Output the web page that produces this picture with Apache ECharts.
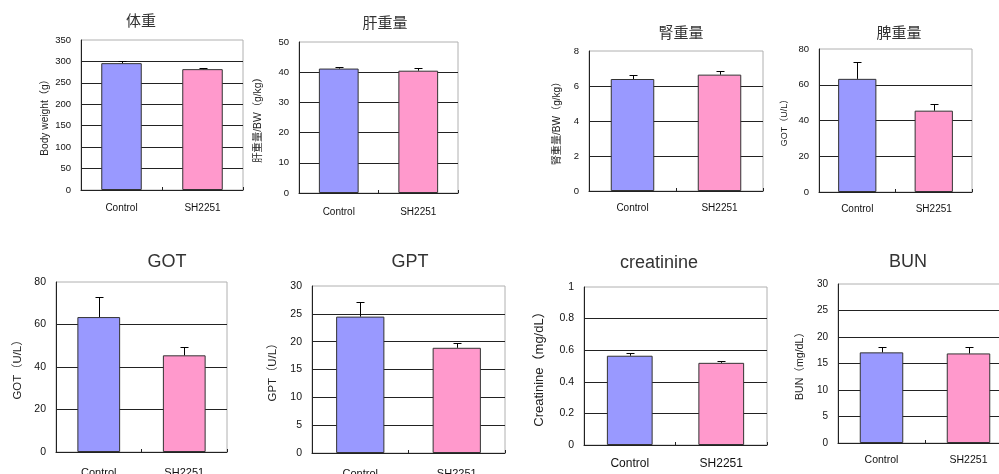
<!DOCTYPE html>
<html>
<head>
<meta charset="utf-8">
<script src="https://cdn.jsdelivr.net/npm/echarts@6/dist/echarts.min.js"></script>
<style>
  html, body { margin: 0; padding: 0; background: #fff; }
  #chart { width: 999px; height: 474px; }
</style>
</head>
<body>
<div id="chart"></div>
<script>
// Groups compared in every panel
const groups = ['Control', 'SH2251'];

// Panel headings and y-axis names
const panelTitles = ['体重', '肝重量', '腎重量', '脾重量', 'GOT', 'GPT', 'creatinine', 'BUN'];
const axisNames = [
  'Body weight（g）',
  '肝重量/BW（g/kg）',
  '腎重量/BW（g/kg）',
  'GOT（U/L）',
  'GOT（U/L）',
  'GPT（U/L）',
  'Creatinine（mg/dL）',
  'BUN（mg/dL）'
];

// Means and error (upper bar) per panel: [Control, SH2251]
const bodyWeight = [296, 282];
const bodyWeightErr = [5, 3];
const liverWeight = [41.2, 40.5];
const liverWeightErr = [0.6, 1.0];
const kidneyWeight = [6.4, 6.65];
const kidneyWeightErr = [0.25, 0.22];
const spleenWeight = [63.3, 45.5];
const spleenWeightErr = [9.5, 3.7];
const gotValues = [63.5, 45.5];
const gotErr = [9.5, 3.8];
const gptValues = [24.5, 18.9];
const gptErr = [2.7, 0.8];
const creatinineValues = [0.565, 0.52];
const creatinineErr = [0.02, 0.012];
const bunValues = [17.1, 16.9];
const bunErr = [1.1, 1.2];

// Value-axis ticks per panel
const axisMax = [350, 50, 8, 80, 80, 30, 1, 30];
const axisStep = [50, 10, 2, 20, 20, 5, 0.2, 5];

const panelMeans = [bodyWeight, liverWeight, kidneyWeight, spleenWeight, gotValues, gptValues, creatinineValues, bunValues];
const panelErrs = [bodyWeightErr, liverWeightErr, kidneyWeightErr, spleenWeightErr, gotErr, gptErr, creatinineErr, bunErr];

// Panel placement: plot box, heading centre, label offsets and font sizes
const layout = [
  { box: [81, 40, 162, 150],  head: [141, 22], headSize: 15, tick: 9.5, xl: 10, xOff: 19, nameC: 37, nameSize: 10.2 },
  { box: [299, 42, 159, 151], head: [385, 24], headSize: 15, tick: 9.5, xl: 10, xOff: 20, nameC: 42, nameSize: 10.3 },
  { box: [589, 51, 174, 140], head: [681, 34], headSize: 15, tick: 9.5, xl: 10, xOff: 18, nameC: 33, nameSize: 10.1 },
  { box: [819, 49, 153, 143], head: [899, 34], headSize: 15, tick: 9.5, xl: 10, xOff: 18, nameC: 35, nameSize: 9 },
  { box: [56, 282, 171, 170], head: [167, 262], headSize: 18, tick: 10.5, xl: 11, xOff: 22, nameC: 39, nameSize: 11.4 },
  { box: [312, 286, 193, 167], head: [410, 262], headSize: 18, tick: 10.5, xl: 11, xOff: 22, nameC: 40, nameSize: 11.4 },
  { box: [584, 287, 183, 158], head: [659, 263], headSize: 18, tick: 10.5, xl: 12, xOff: 20, nameC: 46, nameSize: 13 },
  { box: [838, 284, 174, 159], head: [908, 262], headSize: 18, tick: 10, xl: 10.5, xOff: 18, nameC: 39, nameSize: 10.6 }
];

const FONT = "'Liberation Sans', 'Noto Sans CJK JP', sans-serif";
const barColors = ['#9999FF', '#FF99CC'];

const grids = [], xAxes = [], yAxes = [], series = [], texts = [];

layout.forEach((L, i) => {
  const [left, top, width, height] = L.box;
  grids.push({
    left, top, width, height,
    outerBoundsMode: 'none', containLabel: false,
    show: true, borderColor: '#b0b0b0', borderWidth: 1, backgroundColor: '#fff'
  });
  xAxes.push({
    type: 'category', gridIndex: i, data: groups,
    axisLine: { lineStyle: { color: '#222', width: 1 } },
    axisTick: { show: true, inside: true, length: 3, lineStyle: { color: '#222' } },
    axisLabel: { color: '#111', fontSize: L.xl, fontFamily: FONT, margin: L.xOff - L.xl / 2 - 1 },
    splitLine: { show: false }
  });
  yAxes.push({
    type: 'value', gridIndex: i, min: 0, max: axisMax[i], interval: axisStep[i],
    name: axisNames[i], nameLocation: 'middle', nameGap: L.nameC - L.nameSize / 2 - 1,
    nameTextStyle: { color: '#222', fontSize: L.nameSize, fontFamily: FONT },
    axisLine: { show: true, lineStyle: { color: '#222', width: 1 } },
    axisTick: { show: false },
    axisLabel: { color: '#111', fontSize: L.tick, fontFamily: FONT, margin: 10 },
    splitLine: { show: true, showMaxLine: false, lineStyle: { color: '#222', width: 1 } }
  });
  series.push({
    type: 'bar', xAxisIndex: i, yAxisIndex: i, barWidth: '50%',
    data: panelMeans[i].map((v, k) => ({
      value: v,
      itemStyle: { color: barColors[k], borderColor: '#333', borderWidth: 1 }
    })),
    z: 2,
    animation: false
  });
  series.push({
    type: 'custom', xAxisIndex: i, yAxisIndex: i, z: 3,
    encode: { x: 0, y: 1 },
    data: panelMeans[i].map((v, k) => [k, v, panelErrs[i][k]]),
    renderItem: function (params, api) {
      const base = api.coord([api.value(0), api.value(1)]);
      const tip = api.coord([api.value(0), api.value(1) + api.value(2)]);
      const x = Math.round(base[0]) + 0.5;
      const yTip = Math.round(tip[1]) + 0.5;
      const style = { stroke: '#000', lineWidth: 1 };
      return {
        type: 'group',
        children: [
          { type: 'line', shape: { x1: x, y1: base[1], x2: x, y2: yTip }, style },
          { type: 'line', shape: { x1: x - 4, y1: yTip, x2: x + 4, y2: yTip }, style }
        ]
      };
    },
    animation: false
  });
  texts.push({
    type: 'text', x: L.head[0], y: L.head[1],
    style: {
      text: panelTitles[i], fill: '#333', font: `${L.headSize}px ${FONT}`,
      textAlign: 'center', textVerticalAlign: 'middle'
    }
  });
});

const chart = echarts.init(document.getElementById('chart'), null, { renderer: 'canvas' });
chart.setOption({
  backgroundColor: '#fff',
  animation: false,
  grid: grids,
  xAxis: xAxes,
  yAxis: yAxes,
  series: series,
  graphic: texts
});
</script>
</body>
</html>
